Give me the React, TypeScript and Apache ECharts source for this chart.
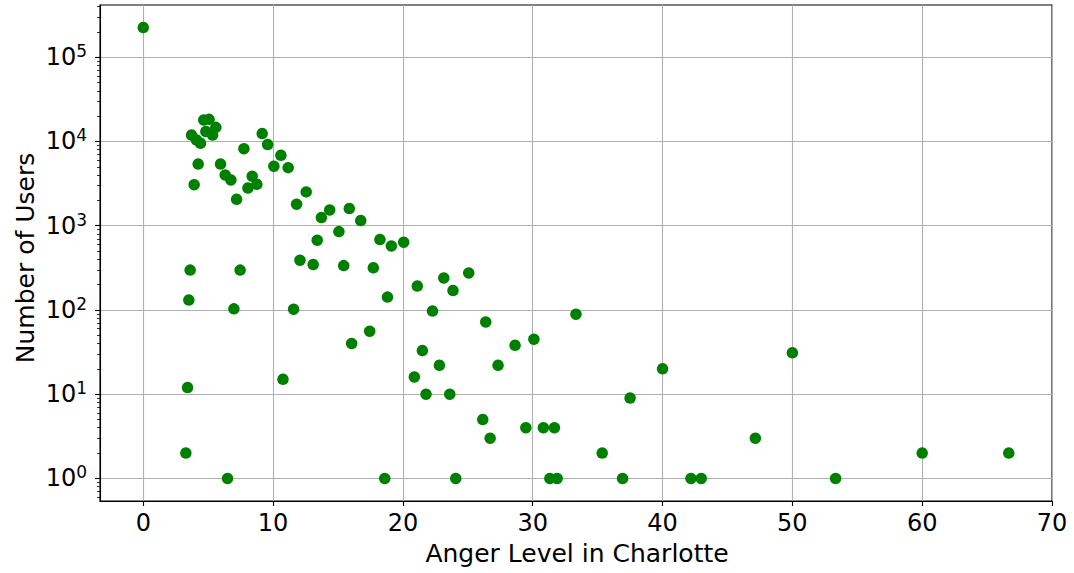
import React, { useEffect, useRef } from "react";
import * as echarts from "echarts";

// Anger level (x) and number of users (y) for each observed level
const angerLevel = [
  0, 4.66, 5.07, 5.59, 4.82, 5.34, 3.72, 4.1, 4.41, 9.16,
  9.58, 7.75, 10.6, 10.06, 11.16, 4.23, 5.95, 6.31, 6.75, 8.39,
  8.75, 8.06, 3.92, 7.19, 12.55, 11.81, 13.72, 14.36, 13.4, 15.87,
  16.75, 15.07, 18.23, 19.11, 20.06, 15.44, 17.72, 18.81, 21.11, 23.15,
  23.86, 25.07, 22.28, 26.38, 12.07, 13.09, 3.61, 7.46, 3.51, 6.98,
  11.58, 17.44, 16.05, 21.5, 10.76, 20.88, 21.78, 23.61, 3.41, 3.28,
  6.49, 18.6, 22.81, 27.33, 28.64, 30.09, 33.33, 40.0, 37.5, 26.15,
  26.72, 29.47, 30.82, 31.67, 35.35, 24.07, 31.32, 31.88, 36.92, 42.19,
  42.98, 50.0, 47.15, 60.0, 66.67, 53.33,
];

const userCount = [
  225000, 18000, 18300, 14700, 13100, 11900, 11900, 10400, 9500, 12400,
  9200, 8200, 6860, 5080, 4890, 5400, 5400, 4000, 3490, 3870,
  3100, 2800, 3070, 2060, 2520, 1800, 1250, 1540, 673, 1600,
  1150, 851, 684, 575, 637, 336, 316, 142, 192, 240,
  170, 275, 97, 72, 390, 346, 297, 297, 131, 103,
  102, 56, 40, 33, 15, 16, 10, 10, 12, 2,
  1, 1, 22, 22, 38, 45, 89, 20, 9, 5,
  3, 4, 4, 4, 2, 1, 1, 1, 1, 1,
  1, 31, 3, 2, 2, 1,
];

const xTicks = [0, 10, 20, 30, 40, 50, 60, 70];
const yTicks = [1, 10, 100, 1000, 10000, 100000];
const yMinorMultipliers = [2, 3, 4, 5, 6, 7, 8, 9];

const FONT = "DejaVu Sans";
const TICK_SIZE = 24;
const NAME_SIZE = 25;

export default function App() {
  const ref = useRef<HTMLDivElement>(null);

  useEffect(() => {
    if (!ref.current) return;
    const chart = echarts.init(ref.current, null, { renderer: "svg" });

    const xMin = -10 / 3;
    const xMax = 70;
    const yMin = Math.pow(10, -0.268);
    const yMax = Math.pow(10, 5.62);

    const minorTicks: number[] = [];
    [0.1, ...yTicks].forEach((d) => {
      yMinorMultipliers.forEach((m) => {
        const v = d * m;
        if (v > yMin && v < yMax) minorTicks.push(v);
      });
    });

    const points = angerLevel.map((x, i) => [x, userCount[i]]);

    chart.setOption({
      animation: false,
      backgroundColor: "#ffffff",
      grid: {
        left: 100,
        top: 5,
        width: 952,
        height: 496,
        show: true,
        borderColor: "#000000",
        borderWidth: 1.1,
        backgroundColor: "transparent",
      },
      graphic: [
        {
          type: "text",
          x: 25,
          y: 258,
          rotation: Math.PI / 2,
          style: {
            text: "Number of Users",
            fontFamily: FONT,
            fontSize: NAME_SIZE,
            fill: "#000000",
            align: "center",
            verticalAlign: "middle",
          },
        },
        {
          type: "text",
          x: 577,
          y: 553,
          style: {
            text: "Anger Level in Charlotte",
            fontFamily: FONT,
            fontSize: NAME_SIZE,
            fill: "#000000",
            align: "center",
            verticalAlign: "middle",
          },
        },
      ],
      xAxis: {
        type: "value",
        min: xMin,
        max: xMax,
        axisLine: { show: true, onZero: false, lineStyle: { color: "#000000", width: 1.1 } },
        axisTick: {
          show: true,
          inside: false,
          length: 5,
          customValues: xTicks,
          lineStyle: { color: "#000000", width: 1.1 },
        },
        axisLabel: {
          customValues: xTicks,
          margin: 10,
          fontFamily: FONT,
          fontSize: TICK_SIZE,
          color: "#000000",
        },
        splitLine: { show: true, lineStyle: { color: "#b0b0b0", width: 1.1 } },
      },
      yAxis: [
        {
          type: "log",
          logBase: 10,
          min: yMin,
          max: yMax,
          axisLine: { show: true, onZero: false, lineStyle: { color: "#000000", width: 1.1 } },
          axisTick: {
            show: true,
            inside: false,
            length: 5,
            customValues: yTicks,
            lineStyle: { color: "#000000", width: 1.1 },
          },
          axisLabel: {
            customValues: yTicks,
            margin: 13,
            formatter: (v: number) => `{b|10}{e|${Math.round(Math.log10(v))}}`,
            rich: {
              b: { fontFamily: FONT, fontSize: TICK_SIZE, color: "#000000", lineHeight: 29 },
              e: {
                fontFamily: FONT,
                fontSize: 17,
                color: "#000000",
                verticalAlign: "top",
                lineHeight: 17,
              },
            },
          },
          splitLine: { show: true, lineStyle: { color: "#b0b0b0", width: 1.1 } },
        },
        {
          type: "log",
          logBase: 10,
          min: yMin,
          max: yMax,
          position: "left",
          axisLine: { show: false, onZero: false },
          axisLabel: { show: false },
          splitLine: { show: false },
          axisTick: {
            show: true,
            inside: false,
            length: 3,
            customValues: minorTicks,
            lineStyle: { color: "#000000", width: 0.8 },
          },
        },
      ],
      series: [
        {
          type: "scatter",
          xAxisIndex: 0,
          yAxisIndex: 0,
          data: points,
          symbol: "circle",
          symbolSize: 11.5,
          itemStyle: { color: "#008000", opacity: 1 },
        },
      ],
    });

    return () => chart.dispose();
  }, []);

  return (
    <div
      ref={ref}
      style={{
        position: "fixed",
        left: 0,
        top: 0,
        width: 1074,
        height: 573,
        background: "#ffffff",
      }}
    />
  );
}
